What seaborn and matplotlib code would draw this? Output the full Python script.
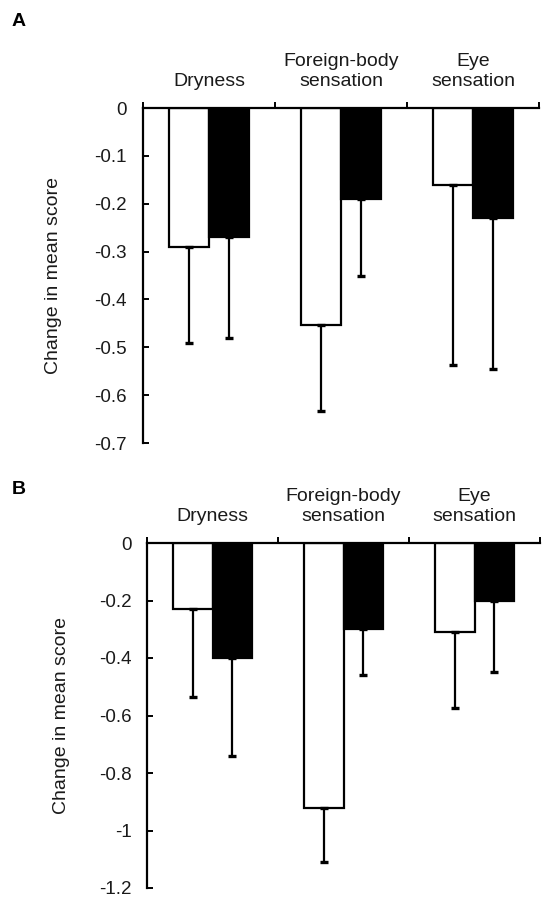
import matplotlib
matplotlib.use("Agg")
import matplotlib.pyplot as plt
import seaborn as sns
import pandas as pd
import numpy as np
from matplotlib.ticker import FixedLocator, FixedFormatter

# ---- data ----
categories = ["Dryness", "Foreign-body\nsensation", "Eye\nsensation"]
groups = ["Group 1", "Group 2"]

a_group1 = [-0.29, -0.453, -0.16]
a_group2 = [-0.27, -0.19, -0.23]
a_group1_err = [0.20, 0.18, 0.377]
a_group2_err = [0.21, 0.16, 0.315]

b_group1 = [-0.23, -0.92, -0.31]
b_group2 = [-0.40, -0.30, -0.20]
b_group1_err = [0.306, 0.19, 0.265]
b_group2_err = [0.34, 0.16, 0.25]

a_yticks = [0, -0.1, -0.2, -0.3, -0.4, -0.5, -0.6, -0.7]
a_yticklabels = ["0", "-0.1", "-0.2", "-0.3", "-0.4", "-0.5", "-0.6", "-0.7"]
b_yticks = [0, -0.2, -0.4, -0.6, -0.8, -1.0, -1.2]
b_yticklabels = ["0", "-0.2", "-0.4", "-0.6", "-0.8", "-1", "-1.2"]

ylabel = "Change in mean score"

sns.set_style("white")
plt.rcParams["font.family"] = ["Liberation Sans", "DejaVu Sans"]
TXT = "#1a1a1a"

fig = plt.figure(figsize=(5.42, 8.98), dpi=100)


def panel(rect, g1, g2, e1, e2, yticks, yticklabels, letter, letter_xy, ylab_x, tick_pad):
    ax = fig.add_axes(rect)
    df = pd.DataFrame({
        "category": categories * 2,
        "group": [groups[0]] * 3 + [groups[1]] * 3,
        "value": list(g1) + list(g2),
    })
    sns.barplot(data=df, x="category", y="value", hue="group", order=categories,
                hue_order=groups, palette=["white", "black"], edgecolor="black",
                linewidth=1.6, width=0.6, gap=0, errorbar=None, legend=False,
                saturation=1, ax=ax)
    for cont, errs in zip(ax.containers, [e1, e2]):
        xs = [p.get_x() + p.get_width() / 2 for p in cont.patches]
        ys = [p.get_height() for p in cont.patches]
        ax.errorbar(xs, ys, yerr=[errs, np.zeros(len(errs))], fmt="none",
                    ecolor="black", elinewidth=1.6, capsize=3.2, capthick=2.4, zorder=3)
    ax.set_xlim(-0.5, 2.5)
    ax.set_ylim(yticks[-1], 0)
    ax.set_yticks(yticks)
    ax.set_yticklabels(yticklabels)
    ax.set_xlabel("")
    ax.set_ylabel("")
    for s in ["right", "bottom"]:
        ax.spines[s].set_visible(False)
    for s in ["left", "top"]:
        ax.spines[s].set_linewidth(1.6)
        ax.spines[s].set_color("black")
    ax.xaxis.tick_top()
    ax.xaxis.set_major_locator(FixedLocator([-0.5, 0.5, 1.5, 2.5]))
    ax.xaxis.set_major_formatter(FixedFormatter(["", "", "", ""]))
    ax.xaxis.set_minor_locator(FixedLocator([0, 1, 2]))
    ax.xaxis.set_minor_formatter(FixedFormatter(categories))
    ax.tick_params(axis="x", which="major", direction="out", length=4, width=1.4,
                   top=True, bottom=False, labeltop=False, labelbottom=False, color="black")
    ax.tick_params(axis="x", which="minor", length=0, top=True, bottom=False,
                   labeltop=True, labelbottom=False, pad=13, labelsize=14, labelcolor=TXT)
    ax.tick_params(axis="y", which="major", direction="in", length=4, width=1.4,
                   left=True, pad=tick_pad, labelsize=13.5, labelcolor=TXT, color="black")
    for lab in ax.xaxis.get_minorticklabels():
        lab.set_multialignment("center")
    bb = ax.get_position()
    fig.text(ylab_x, bb.y0 + bb.height * 0.5, ylabel, rotation=90, ha="center",
             va="center", fontsize=14, color=TXT)
    fig.text(letter_xy[0], letter_xy[1], letter, fontsize=14, fontweight="bold",
             ha="left", va="center", color="black")
    return ax


W, H = 542.0, 898.0
rect_a = [143 / W, 1 - 443 / H, (539 - 143) / W, (443 - 108) / H]
rect_b = [147 / W, 1 - 888 / H, (540 - 147) / W, (888 - 543) / H]

panel(rect_a, a_group1, a_group2, a_group1_err, a_group2_err, a_yticks, a_yticklabels,
      "A", (12 / W, 1 - 22 / H), 54 / W, 12)
panel(rect_b, b_group1, b_group2, b_group1_err, b_group2_err, b_yticks, b_yticklabels,
      "B", (12 / W, 1 - 490 / H), 62 / W, 11)

fig.savefig("out.png", dpi=100)
